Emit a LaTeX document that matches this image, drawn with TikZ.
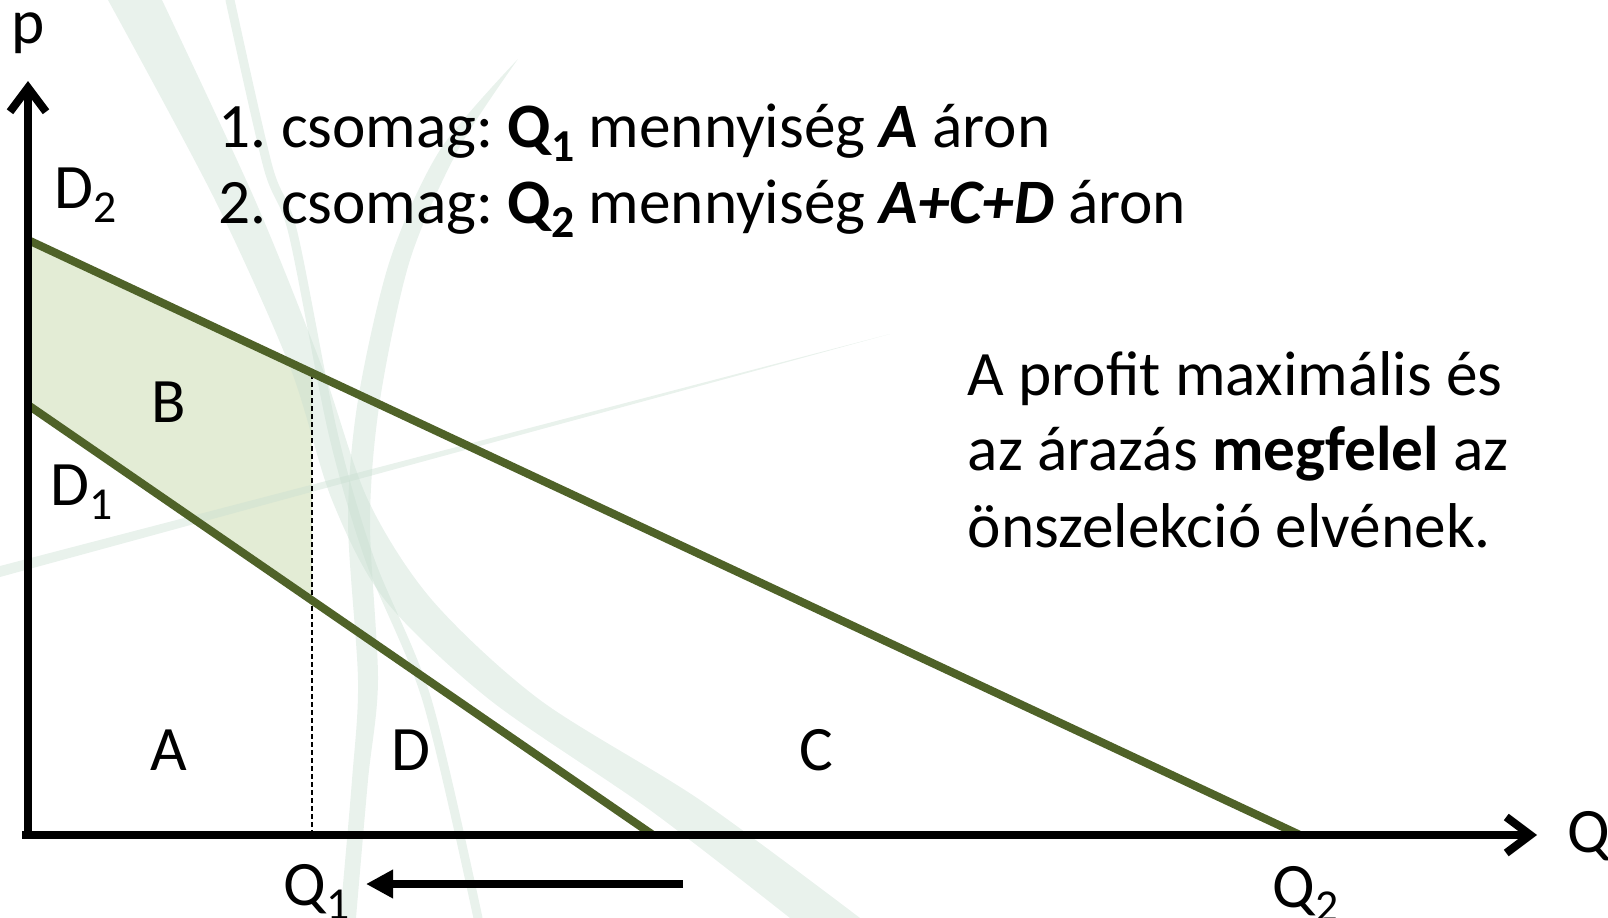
\documentclass[tikz,border=0pt]{standalone}
\usepackage{fontspec}
\setmainfont{Carlito}
\usetikzlibrary{
	arrows.meta,
}
\definecolor{demand}{RGB}{79,98,40}
\definecolor{surplus}{RGB}{227,236,213}
\definecolor{leaf}{RGB}{200,222,208}
\newcommand{\lo}[1]{\raisebox{-0.23em}{\fontsize{13}{13}\selectfont #1}}
\frenchspacing

\tikzset{
	lbl/.style={inner sep=0pt, font=\fontsize{18}{21}\selectfont},
	axis/.style={line width=2.3pt, -{Straight Barb[length=0.24cm,width=0.36cm]}},
	curve/.style={demand, line width=2.3pt},
	swoosh/.style={fill=leaf, fill opacity=0.4, draw=none},
	streak/.style={draw=leaf, draw opacity=0.4, line width=0.09cm, line cap=round},
}

\begin{document}
\begin{tikzpicture}[x=0.01cm,y=-0.01cm]
	\useasboundingbox (0,0) rectangle (1608,918);

	\coordinate (O) at (28,835);
	\coordinate (pEnd) at (28,81);
	\coordinate (qStart) at (22,835);
	\coordinate (qEnd) at (1537,835);
	\coordinate (d2a) at (28,240);
	\coordinate (d2b) at (1300,835);
	\coordinate (d1a) at (28,405);
	\coordinate (d1b) at (653,835);
	\coordinate (q1top) at (312,373);
	\coordinate (q1mid) at (312,600);
	\coordinate (q1bot) at (312,835);
	\coordinate (moveS) at (683,884);
	\coordinate (moveE) at (366,884);

	\fill[surplus] (d2a) -- (q1top) -- (q1mid) -- (d1a) -- cycle;

	\fill[swoosh] plot[smooth] coordinates {(108,0) (215,200) (290,367) (332,500) (385,600) (490,700) (650,810) (790,918)}
		-- plot[smooth] coordinates {(860,918) (700,800) (540,700) (432,600) (368,500) (322,367) (255,200) (162,0)} -- cycle;
	\fill[swoosh] plot[smooth] coordinates {(518,59) (440,150) (390,260) (358,400) (348,520) (358,680) (352,780) (340,918)}
		-- plot[smooth] coordinates {(356,918) (368,780) (378,680) (370,520) (380,400) (410,260) (458,150) (518,59)} -- cycle;
	\draw[streak] plot[smooth] coordinates {(230,0) (268,167) (293,233) (333,433) (370,560) (427,700) (478,918)};
	\fill[swoosh] (0,566) -- (890,334) -- (0,577) -- cycle;

	\draw[black, line width=0.5pt, dash pattern=on 0.05cm off 0.03cm] (q1bot) -- (q1top);
	\draw[curve] (d2a) -- (d2b);
	\draw[curve] (d1a) -- (d1b);

	\draw[axis] (28,839) -- (pEnd);
	\draw[axis] (qStart) -- (qEnd);
	\draw[line width=2pt, -{Triangle[length=0.27cm,width=0.27cm]}] (moveS) -- (moveE);

	\node[lbl, anchor=base] (pLbl) at (28,43) {p};
	\node[lbl, anchor=base west] (qLbl) at (1567,852) {Q};
	\node[lbl, anchor=base west] (dTwo) at (54,208) {D\lo{2}};
	\node[lbl, anchor=base west] (dOne) at (50,505) {D\lo{1}};
	\node[lbl, anchor=base west] (qOne) at (283,905) {Q\lo{1}};
	\node[lbl, anchor=base west] (qTwo) at (1272,907) {Q\lo{2}};

	\node[lbl, anchor=base] (areaB) at (169,422) {B};
	\node[lbl, anchor=base] (areaA) at (169,770) {A};
	\node[lbl, anchor=base] (areaD) at (411,770) {D};
	\node[lbl, anchor=base] (areaC) at (816,770) {C};

	\node[lbl, anchor=base west] (pkgOne) at (218,147) {1. csomag: \textbf{Q\lo{1}} mennyiség \textbf{\textit{A}} áron};
	\node[lbl, anchor=base west] (pkgTwo) at (218,223) {2. csomag: \textbf{Q\lo{2}} mennyiség \textbf{\textit{A+C+D}} áron};

	\node[lbl, anchor=base west] (noteA) at (967,395) {A profit maximális és};
	\node[lbl, anchor=base west] (noteB) at (967,470) {az árazás \textbf{megfelel} az};
	\node[lbl, anchor=base west] (noteC) at (967,547) {önszelekció elvének.};
\end{tikzpicture}
\end{document}
